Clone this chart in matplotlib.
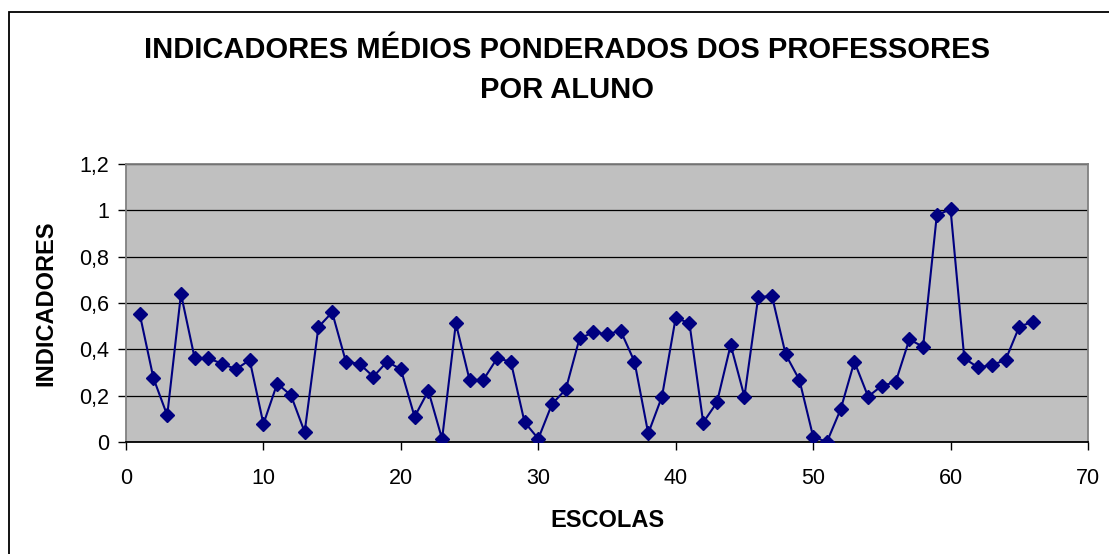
import numpy as np
import matplotlib
matplotlib.use("Agg")
import matplotlib.pyplot as plt
from matplotlib.patches import Rectangle

plt.rcParams['font.family'] = ['Liberation Sans', 'DejaVu Sans']

# dados
escolas = list(range(1, 67))
indicadores = [
    0.552, 0.275, 0.115, 0.639, 0.361, 0.361, 0.338, 0.314, 0.354, 0.078,
    0.252, 0.202, 0.043, 0.496, 0.560, 0.347, 0.337, 0.282, 0.347, 0.314,
    0.109, 0.221, 0.013, 0.512, 0.268, 0.268, 0.361, 0.347, 0.086, 0.014,
    0.164, 0.227, 0.447, 0.473, 0.466, 0.479, 0.347, 0.037, 0.196, 0.537,
    0.512, 0.084, 0.171, 0.419, 0.196, 0.624, 0.631, 0.378, 0.268, 0.023,
    0.000, 0.141, 0.347, 0.196, 0.243, 0.258, 0.443, 0.411, 0.980, 1.004,
    0.361, 0.322, 0.332, 0.354, 0.498, 0.519,
]
xticks = [0, 10, 20, 30, 40, 50, 60, 70]
yticks = [0, 0.2, 0.4, 0.6, 0.8, 1.0, 1.2]
yticklabels = ['0', '0,2', '0,4', '0,6', '0,8', '1', '1,2']

W, H = 1109, 554
fig = plt.figure(figsize=(W / 100, H / 100), dpi=100)
ax = fig.add_axes([126 / W, 1 - 442 / H, (1088 - 126) / W, (442 - 164) / H])

# moldura externa do grafico (cortada a direita e embaixo)
fig.patches.append(Rectangle((9 / W, -0.1), 1.2, 1 - 12 / H + 0.1,
                             transform=fig.transFigure, fill=False,
                             edgecolor='black', linewidth=1.3))

ax.set_facecolor('#C0C0C0')
ax.plot(escolas, indicadores, color='#000080', linewidth=1.5,
        marker='D', markersize=7.5, markerfacecolor='#000080',
        markeredgecolor='#000080', zorder=3)

ax.set_xlim(0, 70)
ax.set_ylim(0, 1.2)
ax.set_xticks(xticks)
ax.set_yticks(yticks)
ax.set_yticklabels(yticklabels)
ax.tick_params(axis='both', direction='out', length=6, width=1,
               labelsize=15.5, colors='black', pad=6)
ax.tick_params(axis='x', pad=13)
ax.grid(axis='y', color='black', linewidth=0.9)
ax.set_axisbelow(True)

for s in ['top', 'right', 'left']:
    ax.spines[s].set_color('#808080')
    ax.spines[s].set_linewidth(1.3)
ax.spines['bottom'].set_color('black')
ax.spines['bottom'].set_linewidth(1.3)

ax.set_xlabel('ESCOLAS', fontsize=17, fontweight='bold', labelpad=14)
ax.set_ylabel('INDICADORES', fontsize=17, fontweight='bold', labelpad=16)

fig.text(567 / W, 1 - 70 / H,
         'INDICADORES MÉDIOS PONDERADOS DOS PROFESSORES\nPOR ALUNO',
         ha='center', va='center', fontsize=21, fontweight='bold',
         linespacing=1.5)

fig.savefig('out.png', dpi=100, facecolor='white')
